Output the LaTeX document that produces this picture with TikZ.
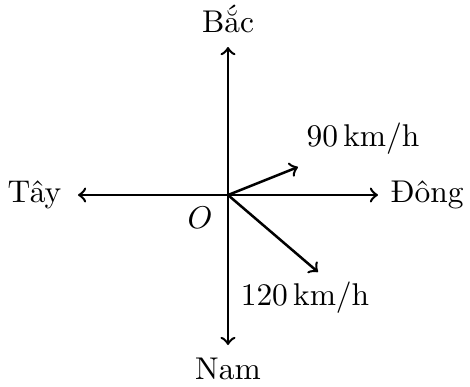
\documentclass[tikz,border=0pt]{standalone}
\usepackage{fontspec}
\usetikzlibrary{positioning}

\begin{document}
\begin{tikzpicture}[
        x=0.318pt, y=0.318pt,
        axis/.style={->, thick},
        vec/.style={->, thick}
    ]
        \useasboundingbox (-228,-191) rectangle (242,195);
        \coordinate (O) at (0,0);
        \coordinate (N) at (0,148);
        \coordinate (S) at (0,-150);
        \coordinate (W) at (-150,0);
        \coordinate (E) at (150,0);
        \coordinate (v1) at (70,28);
        \coordinate (v2) at (90,-77);

        \node[above=1pt of N] (bac) {Bắc};
        \node[below=0.5pt of S] (nam) {Nam};
        \node[left=1.8pt of W] (tay) {Tây};
        \node[right=0.5pt of E] (dong) {Đông};
        \node (o) at (-28,-23) {$O$};
        \node (lab1) at (135,56) {$90\,\mathrm{km/h}$};
        \node (lab2) at (77,-103) {$120\,\mathrm{km/h}$};

        \draw[axis] (O) -- (N);
        \draw[axis] (O) -- (S);
        \draw[axis] (O) -- (W);
        \draw[axis] (O) -- (E);
        \draw[vec] (O) -- (v1);
        \draw[vec] (O) -- (v2);
    \end{tikzpicture}
\end{document}
